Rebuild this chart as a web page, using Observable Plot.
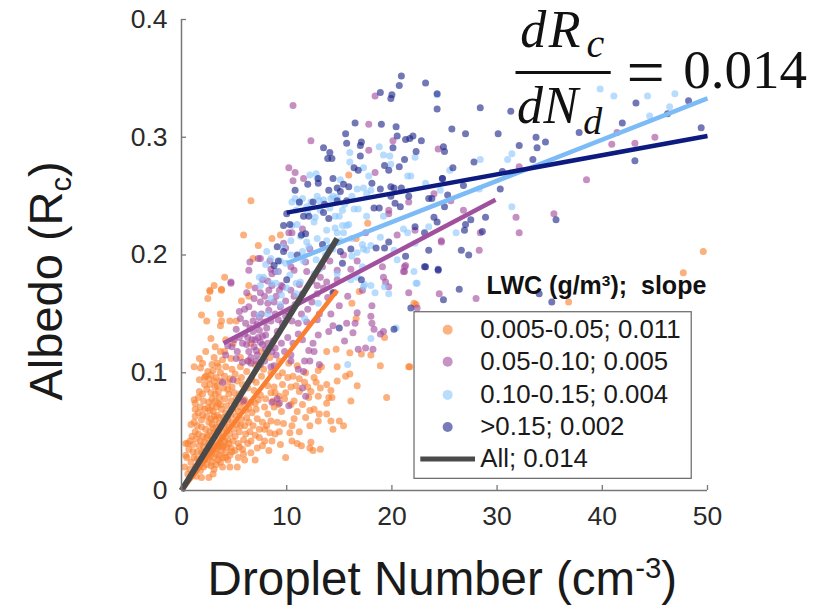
<!DOCTYPE html>
<html>
<head>
<meta charset="utf-8">
<style>html,body{margin:0;padding:0;background:#fff}svg{display:block}</style>
<script src="https://cdn.jsdelivr.net/npm/d3@7"></script>
<script src="https://cdn.jsdelivr.net/npm/@observablehq/plot@0.6"></script>
</head>
<body>
<div id="chart"></div>
<script>
const orange = [[6.6,.246],[15.9,.268],[5.9,.217],[17.7,.227],[7.3,.208],[8.6,.214],[9.4,.217],[16.6,.214],[6.8,.197],[4.1,.181],[3.1,.174],[6.4,.174],[3.8,.171],[2.7,.17],[49.6,.203],[47.7,.185],[36.8,.16],[22.1,.159],[21.6,.105],
[2.7,.169],[2.5,.163],[3.8,.17],[5.7,.161],[6.4,.165],[1.9,.149],[2.4,.144],[3.7,.15],[3.8,.144],[3.7,.14],[4.6,.144],[5.2,.144],[2.8,.129],[3.7,.118],[1.2,.105],[1.8,.104],[2,.108],[1.7,.094],[1.7,.084],[1.2,.077],[1.3,.074],[1.3,.069],[.4,.04],[.6,.04],
[16.9,.169],[16.2,.159],[16.6,.146],[22.3,.158],[19.3,.13],[21.7,.105],[19.5,.079],[18.9,.106],[18,.115],[17.1,.116],[16,.117],[14.7,.12],[13.8,.118],[16.7,.089],[16.1,.076],[16,.099],[15.6,.097],[14.8,.093],[14.8,.105],[13.3,.105],[13,.102],[12.6,.096],[12.8,.092],[13.8,.09],[14.2,.085],[14,.079],[14.3,.079],[13.8,.074],[13,.08],[12.3,.084],[11.7,.092],[10.9,.089],[10.4,.088],[11.2,.084],[10.1,.096],[9.6,.09],[8.8,.088],
[12.2,.068],[12.6,.069],[13.1,.065],[13.8,.065],[14.2,.059],[15,.059],[15.4,.055],[14.4,.052],[13,.059],[12.2,.055],[11.2,.05],[10.3,.049],[10.7,.061],[10.5,.042],[11,.04],[11.4,.038],[12.3,.041],[12.2,.036],[12.5,.034],[13.2,.035],[9.9,.028],[8.9,.048],[9.1,.058],[8.2,.065],[9.5,.067],[8.8,.071],[7.9,.071],[7.1,.069],[8.5,.059],[7.9,.052],[7.2,.061],[6.4,.058],[6.6,.042],[6.3,.04],[7.4,.045],[7.9,.042],[7.7,.038],[7.2,.036],[5.8,.035],[4.8,.033],[7,.026],[5.3,.02],[4.4,.026],[3.9,.02],[3,.014],[2.6,.011],[3.1,.018],[2.1,.02],[1.2,.028],[1.7,.025],
[2.5,.101],[2.9,.107],[3.1,.113],[3.4,.108],[3.9,.111],[4.2,.105],[4.8,.103],[5.1,.099],[5.7,.096],[6.2,.101],[6.7,.094],[7.1,.092],[7.6,.097],[8.2,.089],[8.9,.083],[9.3,.08],[6.9,.085],[7.5,.081],[8,.078],[6.3,.087],[5.8,.09],[5.3,.093],[4.6,.095],[4.1,.097],[3.7,.1],[3,.102],[2.6,.095],[3.1,.093],[3.4,.089],[4,.087],[4.4,.086],[5,.083],[5.5,.082],[6,.077],[6.6,.075],[7,.074],[2.4,.086],[2.8,.083],[3.2,.082],[3.6,.079],[4.1,.078],[4.7,.076],[5.1,.073],[5.6,.071],[6.1,.068],[2.1,.076],[2.6,.075],[2.9,.072],[3.3,.071],[3.8,.069],[4.2,.066],[4.7,.064],[5.2,.063],[5.7,.06],[6,.055],[6.8,.055],[7.4,.052],[1.6,.066],[2,.064],[2.4,.063],[2.8,.061],[3.2,.06],[3.6,.057],[4.1,.056],[4.5,.054],[5,.052],[5.5,.05],[6.1,.048],[1.5,.055],[1.9,.054],[2.3,.052],[2.7,.05],[3.1,.049],[3.5,.047],[3.9,.045],[4.4,.043],[4.9,.042],[5.4,.04],[5.9,.043],[1,.046],[1.4,.044],[1.8,.042],[2.2,.041],[2.6,.04],[3,.038],[3.4,.036],[3.8,.034],[4.2,.032],[4.7,.036],[.7,.035],[1.1,.033],[1.5,.033],[1.9,.032],[2.3,.03],[2.7,.029],[3.1,.028],[3.5,.026],[.5,.028],[.9,.024],[1.3,.02],[.8,.018],[1.8,.017],[2.4,.022],[2.9,.024],[3.6,.03],[4,.038],
[2.2,.09],[2.7,.09],[3.3,.096],[3.5,.074],[3,.067],[2.5,.07],[3.4,.064],[2.9,.056],[3.3,.054],[2.5,.047],[2.9,.044],[3.3,.042],[3.7,.04],[2.1,.037],[2.5,.034],[2.9,.033],[3.3,.031],[3.9,.028],[4.3,.037],[4.6,.048],[5.1,.046],[4.4,.06],[4.8,.058],[5.3,.056],[4.3,.072],[4.9,.069],[5.4,.067],[4.5,.082],[8.5,.1],[9.2,.097],[7.8,.103],[7,.107],[6.4,.11],[5.6,.113],[4.9,.125],[4.2,.128],[6.6,.125],[7.6,.118],[8.4,.113],[9.3,.11],[10.2,.108],[11,.106],[11.8,.1],[9.8,.078],[10.7,.076],[11.5,.073],[9.2,.073],[12.1,.079],
[2.3,.097],[2.8,.098],[3.2,.088],[3.7,.093],[3.5,.084],[2.9,.078],[3.2,.076],[3.7,.073],[2.7,.068],[3.1,.063],[3.6,.062],[4,.062],[2.6,.058],[3,.053],[3.5,.051],[4,.05],[4.3,.051],[2.4,.045],[2.8,.038],[3.2,.035],[3.5,.038],[3.9,.037],[4.1,.042],[4.5,.04],[2,.046],[1.6,.048],[1.3,.05],[1.7,.038],[2.1,.033],[2.5,.027],[2.8,.021],[3.3,.022],[3.7,.024],[4.2,.028],[4.6,.03],[5.1,.034],[5.5,.037],[5.9,.031],[1.1,.039],[.8,.042],[1.5,.027],[2.2,.026],[1.2,.058],[1.9,.06],[2.2,.069],[1.8,.071],[1.6,.079],[2,.082],[2.2,.096],[3.5,.105],[4.4,.092],[4.8,.088],[5.2,.078],[5.8,.075],[6.4,.07],[6.2,.062],[6.7,.066],[5.6,.055],[6.5,.05],[7,.047],[7.7,.058],[8.1,.055],[8.4,.049],[8.7,.076],[7.3,.077],[8.5,.083],[9.9,.083],[9.6,.1],[10.6,.097],[11.2,.095],[12,.088],[13.2,.087],[10.4,.073],[11,.067],[11.8,.062],[9.7,.057],[10.5,.055],[9.3,.05],[8.6,.042],[9.4,.039],[8.3,.034],[.4,.03],[.3,.02],[.6,.014],[.9,.012],[1.4,.012],[1.9,.011],[4.6,.02],[6,.026],[5.4,.028],[6.6,.032],[.9,.056],[1.3,.063],[1.7,.112],[2.3,.118],[3.2,.122],[4.1,.118],[4.7,.112],[5.6,.105]];

const purple = [[18.4,.335],[10.6,.327],[17.8,.311],[12.3,.297],[20.1,.297],[17.8,.289],[24.4,.29],[10.2,.274],[10.8,.27],[10.6,.263],[11.6,.265],[18.4,.27],[24,.252],[21.6,.245],[19.7,.238],[19.7,.235],[11.5,.222],[10.2,.219],[10.5,.219],[17.5,.219],[22.2,.221],[20.5,.217],[24.7,.212],[9.7,.21],[9.9,.206],[7.3,.197],[7.5,.197],[6.5,.194],[8.4,.195],[6.4,.187],[8.5,.188],[8.9,.186],[9.2,.186],[8.6,.184],[10.4,.19],[10.7,.187],[11.9,.186],[4.7,.177],[11.8,.194],[16.7,.195],[19.1,.19],[21.3,.191],[21.2,.186],[19.2,.181],[19.4,.177],[14.8,.187],[13.2,.181],[13.8,.177],[14.8,.179],[7.7,.179],[8.6,.174],[9.6,.173],[12.9,.174],[19.7,.173],[16.1,.188],
[41.4,.304],[40.9,.294],[43.1,.295],[45,.3],[32.1,.275],[38.5,.264],[26.8,.238],[25.6,.246],[31.8,.232],[35.4,.235],[32.1,.219],[28.4,.219],[28.3,.204],[24.7,.211],[21.2,.19],[21.1,.186],[21.6,.168],[24.5,.167],[28,.163],[22.4,.155],
[4.7,.176],[6.4,.156],[6,.154],[6.9,.163],[7.5,.16],[8.2,.159],[9.5,.174],[9.9,.161],[10.4,.17],[11.5,.167],[12,.154],[13.9,.164],[15,.157],[13.1,.15],[14.2,.15],[16.7,.151],[18.1,.157],[18,.148],[16.5,.142],[15.7,.142],[18.1,.142],[18.3,.137],[18.9,.133],[19.2,.135],[16.3,.134],[15.5,.127],[14.4,.14],[14,.135],[13,.132],[12.5,.125],[12.1,.119],[12.6,.118],[16.8,.12],[17.5,.121],[18.2,.12],[11.7,.11],[12.2,.11],[13.1,.107],[11.1,.103],[11.6,.101],[10.4,.11],[8.8,.106],[3.9,.092],[4.9,.094],[5.9,.076],[8.6,.075],[9.1,.078],[9.3,.074],[10.2,.072],[11.5,.087],[11.8,.08],
[5.2,.137],[5.6,.146],[6.1,.142],[6.8,.144],[7.4,.147],[7.9,.143],[8.5,.144],[4.4,.123],[4.8,.122],[4.2,.115],[5.3,.118],[5.8,.125],[6.3,.13],[6.8,.135],[7.4,.136],[8,.132],[7.5,.126],[6.9,.122],[6.4,.118],[5.8,.109],[6.6,.108],[7.2,.115],[8,.12],[5.2,.112],[8.7,.127],[9.1,.135],[9.6,.142],[10.1,.13],[11.1,.142],[11.1,.133],[10.4,.115],[9,.115],[8.5,.105],[7.9,.11],[6.3,.11],[7.1,.11],
[7,.128],[7.7,.131],[6.2,.124],[6.5,.138],[7.2,.141],[8.1,.138],[8.9,.15],[9.4,.156],[10.1,.152],[10.8,.158],[11.4,.15],[12.4,.16],[12.9,.167],[13.5,.172],[14.5,.168],[15.8,.165],[17.2,.17],[7.5,.168],[8.3,.17],[9,.165],[8.2,.178],[7,.172],[6.2,.168],[5.5,.152],
[6.7,.128],[7.3,.13],[7.7,.124],[7.1,.119],[6.6,.113],[7.5,.107],[8.2,.125],[8.6,.118],[6,.133],[5.5,.13],[5,.128],[7.6,.15],[8.3,.153],[9.2,.145],[9.9,.148],[10.5,.144],[9.5,.125],[9.8,.118],[8.9,.121],[10.6,.125],[11.5,.128],[12.9,.145],[11.9,.143],[6.9,.15],[7.9,.165],[8.8,.16],[9.3,.17],[10.7,.165],[11.2,.175],[12.4,.178],[13.4,.19],[14.1,.195],[15.4,.2],[12.2,.205]];

const blue = [[24.3,.336],[16,.287],[18.8,.292],[19.2,.285],[19.8,.284],[19.9,.277],[16,.279],[17.3,.274],[22.2,.283],[12.2,.268],[12.8,.269],[12.9,.265],[15.1,.264],[21.5,.267],[21.8,.267],[17.8,.267],[23.2,.261],[17.3,.257],[18,.255],[16.7,.256],[16.2,.25],[10.8,.248],[10.5,.245],[11.5,.248],[12.9,.25],[13.1,.246],[14.4,.25],[14.8,.249],[14.2,.248],[12.3,.245],[17.6,.252],[16.4,.239],[16.8,.239],[19.2,.233],[17.6,.233],[14.6,.233],[15,.233],[12.7,.232],[12.6,.228],[11,.226],[10.5,.225],[15.9,.226],[15.3,.225],[15.7,.225],[14.6,.223],[13.8,.221],[14.8,.219],[15.4,.219],[11.9,.211],[12.1,.207],[11.5,.203],[8.1,.203],[8.5,.197],[8,.192],[7.4,.181],[7.8,.181],[9.7,.207],[9.9,.193],[13.8,.212],[16.2,.214],[18.9,.215],[17.2,.209],[18,.208],[17.6,.204],[17.3,.205],[16.7,.202],[16.2,.199],[20.2,.204],[21.1,.222],[21.5,.219],[23.5,.224],[22.2,.21],[20.5,.196],[22.1,.186],[22.3,.176],[17.2,.19],[16.7,.181],[18,.174],[17.3,.173],[11.6,.195],[13.1,.188],[12.6,.184],[11.3,.177],[14.8,.184],[16.1,.179],
[39.8,.341],[41.1,.335],[44.3,.335],[46.9,.337],[46.4,.326],[44.5,.318],[31.4,.286],[31,.281],[28.4,.281],[25.5,.272],[28.3,.256],[31.4,.241],[26.1,.219],[24.6,.255],
[22.4,.176],[18.4,.168],[19.7,.167],[19.3,.173],[20.4,.138],[18,.129],[15.8,.107],[7.5,.174],[8.5,.176],[8.5,.163],[10.9,.167],[10.9,.176],[9.5,.166],[13,.159],[11.7,.146],[7.4,.149],[8.2,.15],[17.4,.175],
[11.2,.244],[11.9,.241],[13.5,.247],[15.5,.243],[10.9,.238],[12,.236],[13.2,.238],[14.1,.24],[15.3,.238],[9.4,.195],[9.1,.186],[10.3,.183],[10,.172],[10.4,.2],[12.8,.196],[13.7,.2],[14.4,.205],[15.1,.212],[12.9,.214],[11.3,.216],[10.4,.212],[9,.176],[9.4,.158],[10.6,.155]];

const navy = [[20.9,.352],[20.7,.344],[23.2,.346],[24.3,.337],[18.9,.338],[20,.336],[19.9,.333],[24.3,.324],[16.5,.312],[19,.311],[20.4,.309],[15.6,.303],[15.7,.295],[20.5,.301],[22,.301],[21.3,.298],[21.7,.299],[22.8,.297],[17.1,.296],[17,.293],[13.5,.291],[14.1,.287],[13.9,.282],[14.3,.282],[17,.284],[20.1,.291],[22.3,.288],[21.2,.281],[19.3,.276],[19.7,.272],[20.7,.275],[16.4,.274],[16.8,.272],[14.4,.265],[13,.265],[13,.261],[12,.26],[10.8,.255],[15.4,.26],[14.8,.257],[15.9,.258],[15.1,.254],[14,.255],[18.1,.261],[18.9,.256],[19.9,.258],[20.2,.257],[20.9,.257],[21.6,.25],[24.8,.265],[11.2,.245],[12.5,.245],[13.6,.243],[14.8,.246],[15.7,.246],[19.9,.25],[18.3,.24],[18.8,.24],[20.3,.244],[20.8,.241],[10,.235],[11.6,.233],[12.1,.233],[13.5,.236],[14,.231],[10.3,.226],[9.7,.225],[11.8,.218],[11.4,.217],[24,.232],[24.3,.228],[22.2,.224],[23.1,.219],[23.5,.248],[23.8,.248],[9.1,.207],[9.7,.203],[9.2,.195],[8.8,.191],[13.4,.209],[15.1,.203],[16.1,.205],[18.5,.206],[19.3,.206],[19.7,.211],[23.5,.204],[21.3,.199],[23.2,.19],[24.4,.188],[15.3,.193],[17.1,.179],[10,.179],[11,.2],
[28.4,.325],[31.3,.322],[25.7,.307],[27,.303],[30.1,.303],[37.8,.304],[43.2,.329],[48.2,.331],[46.2,.32],[41.9,.312],[49.4,.308],[33.7,.3],[34.6,.296],[32.1,.293],[33.8,.291],[33.4,.281],[43.1,.28],[27.8,.279],[25.8,.274],[30.5,.271],[24.8,.265],[26.8,.259],[30.3,.256],[25.3,.251],[25,.241],[27.5,.23],[27,.226],[28.9,.232],[28.6,.22],[26.9,.221],[35.6,.23],[26.6,.204],[27.3,.2],[24.9,.292],[25,.288],
[23.1,.19],[24.4,.187],[26.4,.171],[24.9,.162],[21.8,.155],[35.2,.16],[34,.167],[15,.138],[14.4,.168],[20.2,.137]];

// Fit lines: [x1, y1, x2, y2]
const fitOrange = [0, 0, 14.8, .170];
const fitPurple = [4.0, .125, 29.85, .247];
const fitBlue = [10, .193, 50, .333];
const fitNavy = [10, .236, 50, .301];
const fitAll = [0, 0, 14.8, .214];

const xTicks = [0, 10, 20, 30, 40, 50];
const yTicks = [0, .1, .2, .3, .4];
const legendLabels = ["0.005-0.05; 0.011", "0.05-0.10; 0.005", "0.10-0.15; 0.004", ">0.15; 0.002", "All; 0.014"];
const legendRows = [.1365, .1093, .0812, .0540, .0267];
const colors = {orange: "#F8802F", purple: "#A24A9C", blue: "#8CC6FB", navy: "#1C2488", all: "#4A4A4A"};
const lineColors = {orange: "#FA7F32", purple: "#A1509E", blue: "#7CBBF6", navy: "#0D1A80"};
const fs = "Liberation Sans, Arial, sans-serif";
const serif = "Liberation Serif, serif";
const pt = (arr, color) => Plot.dot(arr, {x: d => d[0], y: d => d[1], r: 3.5, fill: color, fillOpacity: .62, stroke: "none"});
const seg = (s, color, w) => Plot.link([s], {x1: d => d[0], y1: d => d[1], x2: d => d[2], y2: d => d[3], stroke: color, strokeWidth: w, strokeLinecap: "butt"});
const legendDots = [colors.orange, colors.purple, colors.blue, colors.navy];

const svg = Plot.plot({
  width: 834, height: 607,
  marginLeft: 181, marginRight: 127, marginTop: 19, marginBottom: 117,
  style: {background: "#fff", fontFamily: fs},
  x: {domain: [0, 50], range: [181, 707]},
  y: {domain: [0, .4], range: [490, 19]},
  marks: [
    pt(orange, colors.orange),
    pt(purple, colors.purple),
    pt(blue, colors.blue),
    pt(navy, colors.navy),
    seg(fitOrange, lineColors.orange, 4.5),
    seg(fitPurple, lineColors.purple, 4.5),
    seg(fitBlue, lineColors.blue, 4.5),
    seg(fitNavy, lineColors.navy, 4.5),
    seg(fitAll, colors.all, 6),
    Plot.ruleX([0], {stroke: "#777", strokeWidth: 1.5}),
    Plot.ruleY([0], {stroke: "#777", strokeWidth: 1.5}),
    Plot.axisX({ticks: xTicks, tickSize: -5, tickPadding: 21, stroke: "#777", strokeWidth: 1.3, fill: "#2a2a2a", fontSize: 26.5, label: null, tickFormat: d => String(d)}),
    Plot.axisY({ticks: yTicks, tickSize: -5, tickPadding: 19, stroke: "#777", strokeWidth: 1.3, fill: "#2a2a2a", fontSize: 26.5, label: null, tickFormat: d => String(d)}),
    // Legend
    Plot.rect([[22.15, .0099, 48.5, .1514]], {x1: d => d[0], y1: d => d[1], x2: d => d[2], y2: d => d[3], fill: "#fff", stroke: "#666", strokeWidth: 1.2}),
    Plot.dot(legendDots, {x: 25.3, y: (d, i) => legendRows[i], r: 5, fill: d => d, fillOpacity: .6, stroke: "none"}),
    seg([22.7, legendRows[4], 27.9, legendRows[4]], colors.all, 5),
    Plot.text(legendLabels, {x: 28.4, y: (d, i) => legendRows[i], text: d => d, textAnchor: "start", fontSize: 25.8, fill: "#1a1a1a", fontFamily: fs}),
    Plot.text(["LWC (g/m3);  slope"], {x: 29, y: .1735, text: d => d, textAnchor: "start", fontSize: 25, fontWeight: 700, fill: "#111", fontFamily: fs, className: "lwc"}),
    // Axis titles
    Plot.text(["Droplet Number (cm-3)"], {x: 24.8, y: -.0755, text: d => d, fontSize: 47.5, fill: "#1a1a1a", fontFamily: fs, className: "xt"}),
    Plot.text(["Albedo (Rc)"], {x: -12.8, y: .178, text: d => d, rotate: -90, fontSize: 47, fill: "#1a1a1a", fontFamily: fs, className: "yt"}),
    // Equation
    Plot.text(["d"], {x: 32.2, y: .377, text: d => d, textAnchor: "start", lineAnchor: "bottom", fontSize: 52, fontStyle: "italic", fill: "#111", fontFamily: serif}),
    Plot.text(["R"], {x: 34.9, y: .377, text: d => d, textAnchor: "start", lineAnchor: "bottom", fontSize: 52, fontStyle: "italic", fill: "#111", fontFamily: serif}),
    Plot.text(["c"], {x: 38.5, y: .368, text: d => d, textAnchor: "start", lineAnchor: "bottom", fontSize: 40, fontStyle: "italic", fill: "#111", fontFamily: serif}),
    Plot.text(["d"], {x: 31.9, y: .312, text: d => d, textAnchor: "start", lineAnchor: "bottom", fontSize: 52, fontStyle: "italic", fill: "#111", fontFamily: serif}),
    Plot.text(["N"], {x: 34.4, y: .312, text: d => d, textAnchor: "start", lineAnchor: "bottom", fontSize: 52, fontStyle: "italic", fill: "#111", fontFamily: serif}),
    Plot.text(["d"], {x: 38.2, y: .303, text: d => d, textAnchor: "start", lineAnchor: "bottom", fontSize: 38, fontStyle: "italic", fill: "#111", fontFamily: serif}),
    seg([31.75, .355, 40.8, .355], "#111", 3),
    Plot.text(["="], {x: 42.3, y: .354, text: d => d, textAnchor: "start", fontSize: 68, fill: "#111", fontFamily: serif}),
    Plot.text(["0.014"], {x: 47.7, y: .342, text: d => d, textAnchor: "start", lineAnchor: "bottom", fontSize: 55, fill: "#111", fontFamily: serif})
  ]
});

function script(sel, base, sup, tail, shift) {
  const t = d3.select(svg).select(sel + " text");
  t.text(base);
  t.append("tspan").attr("font-size", "0.62em").attr("dy", shift).text(sup);
  t.append("tspan").attr("dy", (-parseFloat(shift) * 0.62) + "em").text(tail);
}
script(".xt", "Droplet Number (cm", "-3", ")", "-0.55em");
script(".yt", "Albedo (R", "c", ")", "0.3em");
script(".lwc", "LWC (g/m", "3", ");  slope", "-0.55em");
d3.select(svg).select(".lwc text").attr("xml:space", "preserve").style("white-space", "pre");

document.getElementById("chart").append(svg);
</script>
</body>
</html>
